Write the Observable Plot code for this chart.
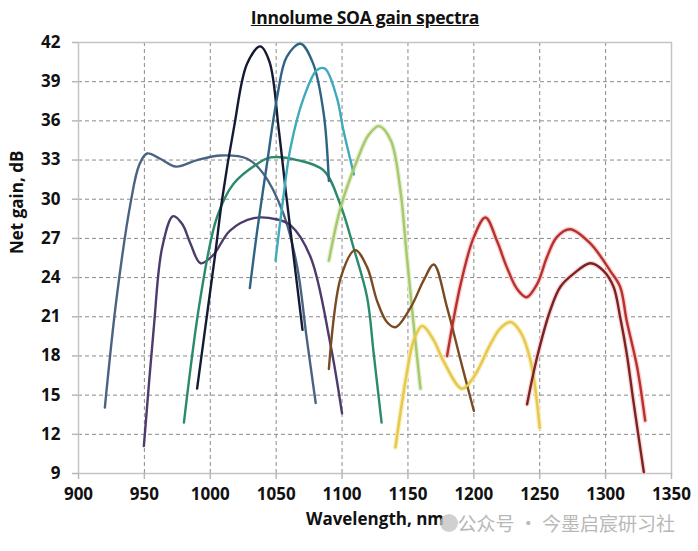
<!DOCTYPE html>
<html><head><meta charset="utf-8">
<script src="https://cdn.jsdelivr.net/npm/d3@7"></script>
<script src="https://cdn.jsdelivr.net/npm/@observablehq/plot@0.6"></script>
<style>
body{margin:0;background:#fff;}
#wrap{position:relative;width:698px;height:551px;font-family:"Open Sans",sans-serif;color:#111;}
#title{position:absolute;left:365px;top:5px;transform:translateX(-50%);white-space:nowrap;font-weight:bold;font-size:17.5px;line-height:24px;text-decoration:underline;letter-spacing:-0.3px;}
#wm{position:absolute;right:23px;top:509px;font-family:"Noto Sans CJK SC",sans-serif;font-size:19px;line-height:28px;color:#b8b8b8;white-space:nowrap;}
#icon{position:absolute;left:440px;top:514px;width:18px;height:18px;border-radius:50%;background:#c4c4c4;opacity:0.8;}
</style>
</head><body>
<div id="wrap">
<div id="chart"></div>
<div id="title">Innolume SOA gain spectra</div>
<div id="icon"></div>
<div id="wm">公众号 · 今墨启宸研习社</div>
</div>
<script>
// Axis ticks
const xTicks = [900, 950, 1000, 1050, 1100, 1150, 1200, 1250, 1300, 1350];
const yTicks = [9, 12, 15, 18, 21, 24, 27, 30, 33, 36, 39, 42];

// Series (wavelength nm, net gain dB)
const s1_nm   = [920, 929, 939.5, 946, 952, 962, 974, 990, 1008, 1028, 1040, 1055.5, 1066, 1073, 1080];
const s1_gain = [14.05, 22.5, 29.7, 32.6, 33.5, 33.1, 32.5, 33.0, 33.35, 33.1, 32.0, 28.9, 24.8, 19.5, 14.4];

const s2_nm   = [949.6, 957, 963.5, 971.8, 978.7, 985, 992.6, 1002, 1015, 1033, 1050.7, 1061, 1076, 1091, 1100];
const s2_gain = [11.1, 20.0, 26.3, 28.7, 28.1, 26.6, 25.1, 25.7, 27.6, 28.55, 28.45, 28.0, 25.6, 19.0, 13.6];

const s3_nm   = [980, 992.6, 1005, 1017.8, 1035.6, 1045.7, 1066, 1086, 1099, 1109, 1119, 1124, 1130];
const s3_gain = [12.9, 22.5, 28.6, 31.2, 32.7, 33.2, 33.0, 32.2, 29.5, 26.2, 22.5, 18.2, 12.9];

const s4_nm   = [990, 998, 1004, 1009, 1018, 1028, 1038, 1045, 1052, 1058, 1064, 1070];
const s4_gain = [15.5, 21.5, 26.0, 30.0, 35.5, 40.4, 41.7, 40.5, 35.3, 30.0, 25.0, 20.0];

const s5_nm   = [1030, 1035.6, 1043, 1050.7, 1058, 1068.5, 1078, 1086, 1090];
const s5_gain = [23.2, 27.6, 32.7, 37.8, 40.9, 41.9, 40.4, 36.6, 31.4];

const s6_nm   = [1049.5, 1055, 1061, 1071, 1081, 1087, 1096, 1101, 1109];
const s6_gain = [25.3, 29.8, 34.0, 37.8, 39.9, 40.0, 37.8, 35.3, 31.9];

const s7_nm   = [1090, 1099, 1111.5, 1120, 1128, 1137, 1144, 1149, 1154, 1159.5];
const s7_gain = [25.3, 29.4, 33.0, 34.9, 35.6, 34.5, 30.9, 25.8, 20.7, 15.5];

const s8_nm   = [1090, 1099, 1110, 1119, 1126.6, 1134, 1140.5, 1152, 1162, 1169.6, 1179.7, 1190, 1200];
const s8_gain = [17.0, 24.0, 26.1, 24.8, 22.2, 20.6, 20.2, 21.7, 23.8, 25.0, 21.7, 17.65, 13.8];

const s9_nm   = [1140.5, 1149, 1154.4, 1160.8, 1169.6, 1177, 1191, 1200, 1212.6, 1220, 1227.8, 1235, 1243, 1250];
const s9_gain = [11.0, 16.6, 19.2, 20.3, 19.2, 17.6, 15.5, 16.4, 18.9, 20.1, 20.6, 19.9, 17.65, 12.5];

const s10_nm   = [1179.7, 1190, 1200, 1208.8, 1217.6, 1225, 1233, 1240, 1248, 1255.6, 1263, 1273, 1288.5, 1303.6, 1311, 1316, 1324, 1330];
const s10_gain = [18.0, 23.5, 27.1, 28.6, 26.8, 24.8, 23.1, 22.5, 23.5, 25.6, 27.1, 27.7, 26.6, 24.5, 23.3, 20.7, 17.1, 13.05];

const s11_nm   = [1240.4, 1248, 1258, 1265.7, 1275.8, 1288.5, 1298.6, 1306, 1311, 1316, 1321, 1329];
const s11_gain = [14.3, 17.9, 21.5, 23.3, 24.3, 25.1, 24.5, 23.3, 21.0, 18.2, 14.6, 9.1];

const seriesNames = ["s1","s2","s3","s4","s5","s6","s7","s8","s9","s10","s11"];
const seriesNm   = [s1_nm, s2_nm, s3_nm, s4_nm, s5_nm, s6_nm, s7_nm, s8_nm, s9_nm, s10_nm, s11_nm];
const seriesGain = [s1_gain, s2_gain, s3_gain, s4_gain, s5_gain, s6_gain, s7_gain, s8_gain, s9_gain, s10_gain, s11_gain];
const seriesColors = ["#4a6383","#4d3b6c","#2c8a6c","#141a33","#2f6384","#3eaabb","#a9c86c","#7a4a22","#e6c84c","#b8312f","#7c2222"];
const haloColors   = [null,null,null,null,null,null,"#e2efcf",null,"#f8ebb4","#f8cccc","#f5d4d4"];

const rows = [];
seriesNames.forEach((s, i) => {
  seriesNm[i].forEach((nm, j) => rows.push({series: s, nm, gain: seriesGain[i][j]}));
});
const haloRows = rows.filter(r => haloColors[seriesNames.indexOf(r.series)]);

const font = "'Open Sans', sans-serif";
const chart = Plot.plot({
  width: 698,
  height: 551,
  marginLeft: 78,
  marginRight: 27,
  marginTop: 42,
  marginBottom: 78,
  style: {fontFamily: font, color: "#111", background: "#fff"},
  x: {domain: [900, 1350]},
  y: {domain: [9, 42]},
  color: {domain: seriesNames, range: seriesColors},
  marks: [
    Plot.gridX(xTicks.slice(1, -1), {stroke: "#8a8a8a", strokeOpacity: 1, strokeDasharray: "4,3", strokeWidth: 1}),
    Plot.gridY(yTicks.slice(1, -1), {stroke: "#8a8a8a", strokeOpacity: 1, strokeDasharray: "4,3", strokeWidth: 1}),
    Plot.frame({stroke: "#c4c4c4", strokeWidth: 1.5}),
    Plot.axisX(xTicks, {tickSize: 6, tickPadding: 8, stroke: "#b8b8b8", strokeWidth: 1.5, fill: "#111", fontSize: 17, fontWeight: "bold", fontFamily: font, tickFormat: d => String(d), label: null}),
    Plot.axisY(yTicks, {tickSize: 6, tickPadding: 12, stroke: "#b8b8b8", strokeWidth: 1.5, fill: "#111", fontSize: 17, fontWeight: "bold", fontFamily: font, tickFormat: d => String(d), label: null}),
    Plot.line(haloRows, {x: "nm", y: "gain", z: "series",
      stroke: d => haloColors[seriesNames.indexOf(d.series)],
      strokeWidth: 5, curve: "catmull-rom", strokeOpacity: 0.9}),
    Plot.line(rows, {x: "nm", y: "gain", z: "series", stroke: "series", strokeWidth: 2.4, curve: "catmull-rom"}),
    Plot.text(["Wavelength, nm"], {frameAnchor: "bottom", dy: 51, fontSize: 17, fontWeight: "bold", fontFamily: font, fill: "#111", letterSpacing: "-0.3px"}),
    Plot.text(["Net gain, dB"], {frameAnchor: "left", dx: -61, dy: -4, rotate: -90, fontSize: 17, fontWeight: "bold", fontFamily: font, fill: "#111"})
  ]
});
document.getElementById("chart").appendChild(chart);
</script>
</body></html>
